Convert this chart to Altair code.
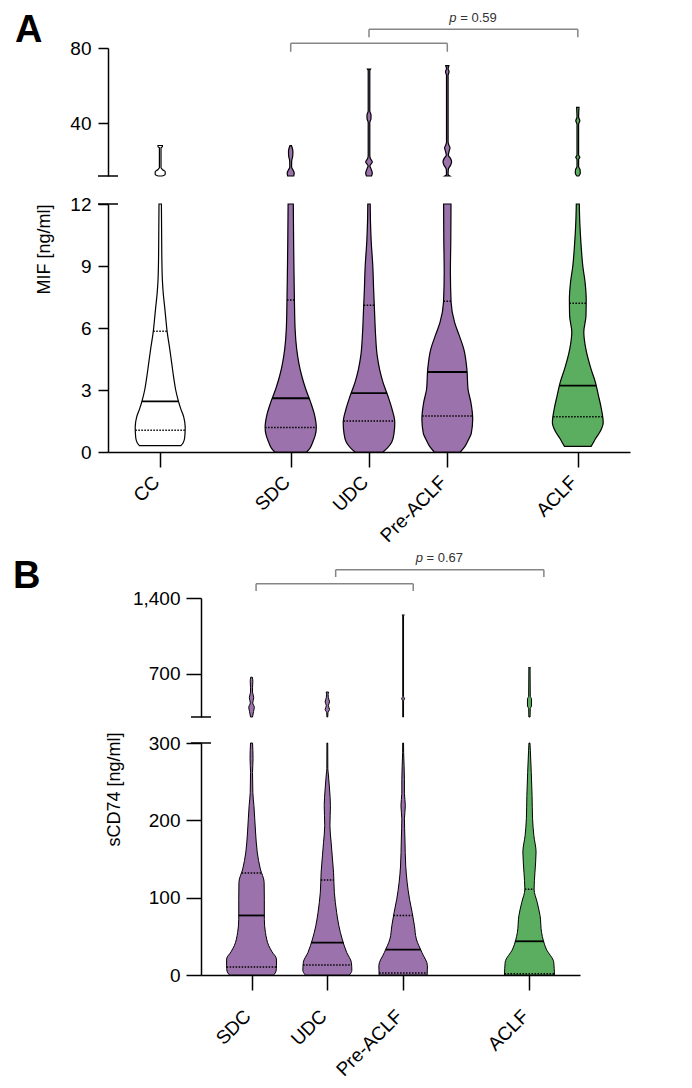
import altair as alt
import numpy as np
import pandas as pd

# ---------------- Panel A : MIF ----------------
mif_groups = ["CC", "SDC", "UDC", "Pre-ACLF", "ACLF"]
mif_slots = [0, 5, 8, 11, 16]
mif_fills = ["#ffffff", "#9b72ab", "#9b72ab", "#9b72ab", "#5bae60"]
mif_median = [2.45, 2.6, 2.85, 3.87, 3.21]
mif_q1 = [1.05, 1.18, 1.5, 1.74, 1.71]
mif_q3 = [5.84, 7.35, 7.1, 7.3, 7.2]

# violin outlines: (value, relative half-width), lower segment 0-12
mif_cc_low = [(0.31, 20.7), (0.45, 23), (0.7, 24.5), (1.2, 25), (1.7, 23.5), (2.1, 20.5), (2.5, 18),
              (3.0, 15.5), (3.6, 13.5), (4.3, 11.5), (5.0, 9.5), (5.8, 7), (6.5, 5.5), (7.0, 4.5),
              (7.6, 3.2), (8.3, 2.2), (9.5, 1.6), (12, 1.2)]
mif_sdc_low = [(0, 16), (0.2, 19.5), (0.47, 22), (0.8, 24.5), (1.19, 25.6), (1.76, 24), (2.4, 20),
               (3.05, 15), (3.69, 11), (4.34, 8), (4.98, 6), (5.95, 4.4), (7.4, 3.7), (8.7, 3.3),
               (10.3, 2.9), (12, 2.6)]
mif_udc_low = [(0, 14), (0.2, 18.5), (0.47, 22.7), (0.9, 25), (1.43, 25.8), (2.08, 23), (2.72, 18.8),
               (3.37, 14), (4.0, 10.6), (4.66, 8.2), (5.63, 6.6), (6.6, 5.7), (7.9, 4.6), (9.0, 3.8),
               (10.2, 2.2), (11.1, 1.5), (12, 1.2)]
mif_pre_low = [(0, 13), (0.3, 18), (0.63, 21.5), (0.9, 24), (1.6, 25.4), (2.4, 23.6), (3.05, 20.7),
               (4.0, 19.6), (4.98, 16.5), (5.63, 12), (6.27, 7.3), (7.24, 3.8), (8.7, 3.1), (10.3, 3.5),
               (12, 3.7)]
mif_aclf_low = [(0.27, 13.3), (0.45, 15.5), (0.63, 17.5), (1.0, 22.5), (1.43, 25.4), (2.08, 23.6),
                (2.72, 20.7), (3.37, 17.6), (4.02, 13.2), (5.0, 8), (5.8, 6), (6.6, 8.2), (7.4, 8.4),
                (8.2, 7.3), (9.0, 5), (10.0, 3.3), (11.1, 2), (12, 1.5)]
# upper segment 12-80
mif_cc_top = [(12, 2), (12.8, 5), (14.2, 5), (15.3, 2.5), (16.5, 0.8), (27, 0.8), (27.6, 2.2), (28.2, 2.2)]
mif_sdc_top = [(12, 3), (13.5, 3.5), (15, 2.5), (16.8, 0.9), (20, 1.0), (22.5, 2.0), (25, 2.2), (27, 1.5),
               (28.1, 0.8)]
mif_udc_top = [(12, 2.5), (13.5, 3.3), (15.8, 2.0), (17.3, 0.9), (19.5, 3.3), (21.5, 1.2), (23, 0.8),
               (40.5, 0.8), (42.5, 2), (44.5, 2), (46.5, 0.8), (68, 0.8), (68.8, 1.5)]
mif_pre_top = [(12, 2.5), (12.8, 0.8), (15.5, 1.0), (18, 3.5), (19.6, 4.3), (21.5, 3), (23, 1), (25.5, 2),
               (27, 2.7), (28.5, 1.5), (30, 0.8), (65.5, 0.8), (67.4, 1.8), (69, 0.8), (70.6, 1.5)]
mif_aclf_top = [(12, 1), (13.5, 2.5), (15.5, 2.2), (17, 0.8), (20.8, 0.8), (22, 2.0), (23.2, 0.8),
                (39.5, 0.8), (41.4, 2), (43.3, 0.8), (48.5, 1.2)]

mif_bracket_from = [5, 8]
mif_bracket_to = [11, 16]
mif_bracket_bar = [82.5, 90.0]
mif_bracket_leg = [78.0, 85.7]
mif_p_label = ["0.59"]
mif_p_x = [12.0]
mif_p_y = [99.1]

# ---------------- Panel B : sCD74 ----------------
cd74_groups = ["SDC", "UDC", "Pre-ACLF", "ACLF"]
cd74_slots = [0, 3, 6, 11]
cd74_fills = ["#9b72ab", "#9b72ab", "#9b72ab", "#5bae60"]
cd74_median = [77, 41.8, 32.7, 43.6]
cd74_q1 = [10.3, 12.9, 2.6, 1.7]
cd74_q3 = [132, 122.8, 77, 110.8]

cd74_sdc_low = [(0, 22), (5, 24.5), (12, 25), (20.7, 24.9), (30, 20.5), (38, 17.2), (55, 13.9), (72, 12.8),
                (98, 12.8), (120, 12.6), (137, 8.8), (159, 5.7), (185, 4), (219, 2.4), (236, 1.3),
                (262, 1.0), (280, 1.5), (300, 1.0)]
cd74_udc_low = [(0, 22), (6, 24.5), (16.4, 24), (29, 19.4), (46.6, 14.8), (63.8, 11.5), (81, 9.3),
                (107, 7), (133, 6.2), (154, 4.9), (171.6, 3.8), (193, 2.6), (219, 3.1), (240.5, 2.2),
                (260, 1.0), (267, 0.5), (300, 0.4)]
cd74_pre_low = [(0, 24), (12, 24.3), (29, 18.8), (46.6, 13.2), (63.8, 11.3), (81, 9), (98, 6.4), (120, 4),
                (141, 2.6), (176, 1.8), (202, 1.3), (219, 2.2), (235, 1.3), (253, 1.3), (288, 0.5),
                (300, 0.4)]
cd74_aclf_low = [(0, 25), (16.4, 24.3), (33.6, 16.8), (55, 12.1), (76.7, 10.6), (94, 7.7), (111, 4.6),
                 (133, 5.5), (159, 6.6), (180, 4.4), (202, 3.1), (232, 2.6), (262, 1.8), (290, 0.9),
                 (300, 0.5)]
cd74_sdc_top = [(300, 1.0), (350, 2.0), (390, 2.8), (430, 1.2), (478, 2.2), (530, 1.0), (570, 1.0),
                (630, 1.3), (668, 0.8)]
cd74_udc_top = [(300, 0.4), (340, 0.6), (370, 2.2), (405, 1.0), (440, 2.2), (480, 1.0), (510, 0.8),
                (531, 1.2)]
cd74_pre_top = [(300, 0.4), (450, 0.4), (469, 1.5), (490, 0.4), (1235, 0.4), (1243, 1.2)]
cd74_aclf_top = [(300, 0.6), (380, 0.8), (400, 2.0), (470, 2.0), (490, 0.8), (750, 0.6), (756, 1.2)]

cd74_bracket_from = [0.18, 3.33]
cd74_bracket_to = [6.4, 11.57]
cd74_bracket_bar = [1532, 1662]
cd74_bracket_leg = [1465, 1594]
cd74_p_label = ["0.67"]
cd74_p_x = [7.45]
cd74_p_y = [1825]

FONT = "Liberation Sans"


def violin_frame(groups, slots, profiles, unit):
    rows = []
    for g, s, prof in zip(groups, slots, profiles):
        for v, w in prof:
            rows.append(dict(group=g, value=v, lo=s - w / unit, hi=s + w / unit))
    return pd.DataFrame(rows)


def stat_frame(groups, slots, profiles, unit, stats):
    rows = []
    for i, (g, s, prof) in enumerate(zip(groups, slots, profiles)):
        vals = [p[0] for p in prof]
        ws = [p[1] for p in prof]
        for kind, arr in stats.items():
            v = arr[i]
            w = float(np.interp(v, vals, ws))
            rows.append(dict(group=g, kind=kind, value=v, lo=s - w / unit, hi=s + w / unit))
    return pd.DataFrame(rows)


def bracket_frame(x1s, x2s, bars, legs):
    rows = []
    for a, b, bar, leg in zip(x1s, x2s, bars, legs):
        rows.append(dict(lo=a, hi=b, value=bar, value2=bar))
        rows.append(dict(lo=a, hi=a, value=leg, value2=bar))
        rows.append(dict(lo=b, hi=b, value=leg, value2=bar))
    return pd.DataFrame(rows)


def label_expr(slots, names):
    expr = "''"
    for s, n in reversed(list(zip(slots, names))):
        expr = f"datum.value == {s} ? '{n}' : ({expr})"
    return expr


def segment(violins, stats, X, Y, groups, fills, stroke_w, caps, cap_x, extras, width, height):
    layers = [
        alt.Chart(violins).mark_area(orient="horizontal", interpolate="monotone", stroke="black",
                                     strokeWidth=stroke_w).encode(
            x=X, x2="hi:Q", y=Y,
            fill=alt.Fill("group:N", scale=alt.Scale(domain=groups, range=fills), legend=None))
    ]
    if stats is not None:
        med = stats[stats.kind == "median"]
        qs = stats[stats.kind != "median"]
        layers.append(alt.Chart(med).mark_rule(color="black", strokeWidth=1.8).encode(x=X, x2="hi:Q", y=Y))
        layers.append(alt.Chart(qs).mark_rule(color="black", strokeWidth=1.5, strokeDash=[1.5, 1.5]).encode(
            x=X, x2="hi:Q", y=Y))
    layers.append(alt.Chart(pd.DataFrame({"value": caps})).mark_rule(color="black", strokeWidth=1.5).encode(
        x=alt.value(cap_x - 10), x2=alt.value(cap_x + 10), y=Y))
    layers.extend(extras)
    return alt.layer(*layers).properties(width=width, height=height)


def annotations(X, Y, bx1, bx2, bbar, bleg, px, py, plabel, letter, letter_x, letter_y):
    br = bracket_frame(bx1, bx2, bbar, bleg)
    pdf = pd.DataFrame({"lo": px, "value": py, "label": ["= " + p for p in plabel]})
    return [
        alt.Chart(br).mark_rule(color="#858585", strokeWidth=1.5).encode(x=X, x2="hi:Q", y=Y, y2="value2:Q"),
        alt.Chart(pdf).mark_text(text="p", fontStyle="italic", fontSize=13, color="#333333", align="right",
                                 baseline="top", dx=-16.8).encode(x=X, y=Y),
        alt.Chart(pdf).mark_text(fontSize=13, color="#333333", align="left", baseline="top",
                                 dx=-13.2).encode(x=X, y=Y, text="label:N"),
        alt.Chart(pd.DataFrame({"letter": [letter]})).mark_text(
            align="left", baseline="top", fontSize=38, fontWeight="bold", color="black").encode(
            x=alt.value(letter_x), y=alt.value(letter_y), text="letter:N"),
    ]


AXIS_STYLE = dict(domainColor="black", tickColor="black", labelColor="black", titleColor="black",
                  grid=False, tickWidth=1.5, domainWidth=1.5, labelFontSize=19)

# ---------- Panel A charts ----------
A_UNIT = 26.1
A_W = 522
a_xscale = alt.Scale(domain=[-2, 18], nice=False, zero=False)
a_top_X = alt.X("lo:Q", scale=a_xscale, axis=None)
a_bot_X = alt.X("lo:Q", scale=a_xscale, axis=alt.Axis(
    values=mif_slots, labelExpr=label_expr(mif_slots, mif_groups), labelAngle=315, labelAlign="right",
    labelBaseline="alphabetic", tickSize=15, labelPadding=16, labelFlush=False, labelOverlap=False,
    title=None, **AXIS_STYLE))
a_top_Y = alt.Y("value:Q", scale=alt.Scale(domain=[12, 80], nice=False, zero=False), axis=alt.Axis(
    values=[40, 80], format=",d", tickSize=10, labelPadding=7, title=None, **AXIS_STYLE))
a_bot_Y = alt.Y("value:Q", scale=alt.Scale(domain=[0, 12], nice=False, zero=False), axis=alt.Axis(
    values=[0, 3, 6, 9, 12], format=",d", tickSize=10, labelPadding=7,
    title="MIF [ng/ml]", titleFontSize=18, titleFontWeight="normal", titleX=-55,
    titleY=45, titleBaseline="bottom", **AXIS_STYLE))

mif_low_profiles = [mif_cc_low, mif_sdc_low, mif_udc_low, mif_pre_low, mif_aclf_low]
mif_top_profiles = [mif_cc_top, mif_sdc_top, mif_udc_top, mif_pre_top, mif_aclf_top]

a_top = segment(
    violin_frame(mif_groups, mif_slots, mif_top_profiles, A_UNIT), None, a_top_X, a_top_Y,
    mif_groups, mif_fills, 1.2, [12], 0,
    annotations(a_top_X, a_top_Y, mif_bracket_from, mif_bracket_to, mif_bracket_bar, mif_bracket_leg,
                mif_p_x, mif_p_y, mif_p_label, "A", -93, -36),
    A_W, 128)
a_bot = segment(
    violin_frame(mif_groups, mif_slots, mif_low_profiles, A_UNIT),
    stat_frame(mif_groups, mif_slots, mif_low_profiles, A_UNIT,
               {"median": mif_median, "q1": mif_q1, "q3": mif_q3}),
    a_bot_X, a_bot_Y, mif_groups, mif_fills, 1.2, [12], 0, [], A_W, 248)

# ---------- Panel B charts ----------
B_UNIT = 25.27
B_W = 472
B_OFF = 93
b_xscale = alt.Scale(domain=[-2, 13], range=[B_OFF, B_W], nice=False, zero=False)
b_top_X = alt.X("lo:Q", scale=b_xscale, axis=None)
b_bot_X = alt.X("lo:Q", scale=b_xscale, axis=alt.Axis(
    values=cd74_slots, labelExpr=label_expr(cd74_slots, cd74_groups), labelAngle=315, labelAlign="right",
    labelBaseline="alphabetic", tickSize=15, labelPadding=27, labelFlush=False, labelOverlap=False,
    title=None, **AXIS_STYLE))
b_top_Y = alt.Y("value:Q", scale=alt.Scale(domain=[300, 1400], nice=False, zero=False), axis=alt.Axis(
    values=[700, 1400], format=",d", tickSize=15, labelPadding=6, title=None, offset=-B_OFF, **AXIS_STYLE))
b_bot_Y = alt.Y("value:Q", scale=alt.Scale(domain=[0, 300], nice=False, zero=False), axis=alt.Axis(
    values=[0, 100, 200, 300], format=",d", tickSize=15, labelPadding=6,
    title="sCD74 [ng/ml]", titleFontSize=18, titleFontWeight="normal", titleX=-78,
    titleY=46, titleBaseline="bottom", offset=-B_OFF, **AXIS_STYLE))

cd74_low_profiles = [cd74_sdc_low, cd74_udc_low, cd74_pre_low, cd74_aclf_low]
cd74_top_profiles = [cd74_sdc_top, cd74_udc_top, cd74_pre_top, cd74_aclf_top]

b_top = segment(
    violin_frame(cd74_groups, cd74_slots, cd74_top_profiles, B_UNIT), None, b_top_X, b_top_Y,
    cd74_groups, cd74_fills, 1.0, [300], B_OFF,
    annotations(b_top_X, b_top_Y, cd74_bracket_from, cd74_bracket_to, cd74_bracket_bar, cd74_bracket_leg,
                cd74_p_x, cd74_p_y, cd74_p_label, "B", -95, -40),
    B_W, 119)
b_bot = segment(
    violin_frame(cd74_groups, cd74_slots, cd74_low_profiles, B_UNIT),
    stat_frame(cd74_groups, cd74_slots, cd74_low_profiles, B_UNIT,
               {"median": cd74_median, "q1": cd74_q1, "q3": cd74_q3}),
    b_bot_X, b_bot_Y, cd74_groups, cd74_fills, 1.0, [300], B_OFF, [], B_W, 232)

chart = alt.vconcat(
    alt.vconcat(a_top, a_bot, spacing=16),
    alt.vconcat(b_top, b_bot, spacing=12),
    spacing=6,
).properties(
    padding={"left": 5, "top": 4, "right": 5, "bottom": 5}
).configure(font=FONT, background="white").configure_view(
    stroke="transparent", strokeWidth=0
).configure_axis(
    domainColor="black", tickColor="black", labelColor="black", titleColor="black", grid=False,
    labelFont=FONT, titleFont=FONT,
)

chart.save("out.html", embed_options={"renderer": "svg", "actions": False})
